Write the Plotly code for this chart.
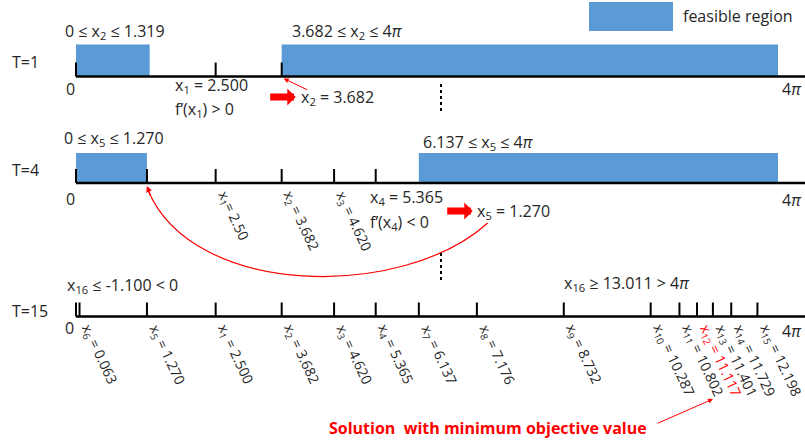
import math
import plotly.graph_objects as go

FOUR_PI = 4 * math.pi

# ---------------- data ----------------
row_names = ["T=1", "T=4", "T=15"]

# T=1
t1_region_lo = [0.0, 3.682]
t1_region_hi = [1.319, FOUR_PI]
t1_region_text = ["0 ≤ x<sub>2</sub> ≤ 1.319", "3.682 ≤ x<sub>2</sub> ≤ 4<i>π</i>"]
t1_x1 = 2.500
t1_x2 = 3.682

# T=4
t4_region_lo = [0.0, 6.137]
t4_region_hi = [1.270, FOUR_PI]
t4_region_text = ["0 ≤ x<sub>5</sub> ≤ 1.270", "6.137 ≤ x<sub>5</sub> ≤ 4<i>π</i>"]
t4_names = ["x<sub>1</sub>= ", "x<sub>2</sub> = ", "x<sub>3</sub> = "]
t4_values = [2.50, 3.682, 4.620]
t4_text = ["2.50", "3.682", "4.620"]
t4_x4 = 5.365
t4_x5 = 1.270

# T=15
t15_index = list(range(1, 16))
t15_values = [2.500, 3.682, 4.620, 5.365, 1.270, 0.063, 6.137, 7.176,
              8.732, 10.287, 10.802, 11.117, 11.401, 11.729, 12.198]
t15_text = ["2.500", "3.682", "4.620", "5.365", "1.270", "0.063", "6.137", "7.176",
            "8.732", "10.287", "10.802", "11.117", "11.401", "11.729", "12.198"]
best_index = 12
x16_text = ["x<sub>16</sub> ≤ -1.100 < 0", "x<sub>16</sub> ≥ 13.011 > 4<i>π</i>"]

# ---------------- layout constants ----------------
W, H = 805, 445
ZERO_PX, END_PX = 76, 778
PXU = (END_PX - ZERO_PX) / FOUR_PI
R0 = -ZERO_PX / PXU
R1 = R0 + W / PXU

LINE_Y = [76.5, 183, 316.5]
BAR_H = [32, 30]
TICK_H = 14
BLUE = "#5B9BD5"
TXT = "#262626"
RED = "#FF0000"
FONT = "'Open Sans', 'Noto Sans', sans-serif"
FS = 16
FS_ROT = 14
ANG = 65

fig = go.Figure()
annotations = []
shapes = []


def text(x, y, s, xanchor="left", xshift=0, color=TXT, size=FS, xref="x", **kw):
    annotations.append(dict(x=x, y=y, xref=xref, yref="y", text=s, showarrow=False,
                            xanchor=xanchor, yanchor="middle", xshift=xshift,
                            font=dict(family=FONT, size=size, color=color), **kw))


def axis_line(y):
    fig.add_trace(go.Scatter(x=[0, R1], y=[y, y], mode="lines",
                             line=dict(color="black", width=2.5), hoverinfo="skip"))


def ticks(values, y, width=2):
    xs, ys = [], []
    for v in values:
        xs += [v, v, None]
        ys += [y, y - TICK_H, None]
    fig.add_trace(go.Scatter(x=xs, y=ys, mode="lines",
                             line=dict(color="black", width=width), hoverinfo="skip"))


def bars(lo, hi, y, h):
    fig.add_trace(go.Bar(orientation="h", base=lo, x=[b - a for a, b in zip(lo, hi)],
                         y=[y - h / 2] * len(lo), width=h,
                         marker=dict(color=BLUE, line=dict(width=0)), hoverinfo="skip"))


def rotated(v, y, s, color=TXT):
    annotations.append(dict(x=v, y=y, xref="x", yref="y", text=s, showarrow=False,
                            textangle=ANG, xanchor="left", yanchor="top",
                            xshift=-6, yshift=-2,
                            font=dict(family=FONT, size=FS_ROT, color=color)))


def block_arrow(v, y, x_from, x_to):
    annotations.append(dict(x=v, y=y, xref="x", yref="y", text="", showarrow=True,
                            xshift=x_to, ax=x_from - x_to, ay=0, arrowhead=1, arrowsize=0.4,
                            arrowwidth=7, arrowcolor=RED))


def pi_label(y):
    text(1.0, y, "4<i>π</i>", xref="paper", xanchor="right", xshift=-1)


def row_label(y, s):
    text(0, y, s, xref="paper", xshift=10)


# ---------------- T=1 ----------------
y = LINE_Y[0]
bars(t1_region_lo, t1_region_hi, y, BAR_H[0])
axis_line(y)
ticks([0, t1_x1, t1_x2], y)
row_label(62, row_names[0])
text((t1_region_lo[0] + t1_region_hi[0]) / 2, 31, t1_region_text[0], xanchor="center", xshift=2)
text(t1_region_lo[1], 31, t1_region_text[1], xshift=8)
text(0, 89, "0", xanchor="center", xshift=-6)
pi_label(89)
text(t1_x1, 85, f"x<sub>1</sub> = {t1_x1:.3f}", xshift=-43)
text(t1_x1, 109, "f’(x<sub>1</sub>) > 0", xshift=-43)
block_arrow(t1_x2, 97, -13, 14)
text(t1_x2, 97, f"x<sub>2</sub> = {t1_x2:.3f}", xshift=17)
annotations.append(dict(x=t1_x2, y=78.5, xref="x", yref="y", text="", showarrow=True,
                        xshift=2, ax=25, ay=12, arrowhead=2, arrowsize=1, arrowwidth=1,
                        arrowcolor=RED))

# ---------------- T=4 ----------------
y = LINE_Y[1]
bars(t4_region_lo, t4_region_hi, y, BAR_H[1])
axis_line(y)
ticks([0, t4_x5] + t4_values + [t4_x4], y)
row_label(170, row_names[1])
text(0, 138, t4_region_text[0], xshift=-14)
text(t4_region_lo[1], 142, t4_region_text[1], xshift=2)
text(0, 199, "0", xanchor="center", xshift=-6)
pi_label(200)
for n, v, s in zip(t4_names, t4_values, t4_text):
    rotated(v, y, n + s)
text(t4_x4, 197, f"x<sub>4</sub> = {t4_x4:.3f}", xshift=-8)
text(t4_x4, 222, "f’(x<sub>4</sub>) < 0", xshift=-8)
block_arrow(t4_x4, 211, 70, 97)
text(t4_x4, 211, f"x<sub>5</sub> = {t4_x5:.3f}", xshift=99)

# curved red connector from the x5 label back to x5 on the line
sx, sy = t4_x4 + 112 / PXU, 223
ex, ey = t4_x5 + 1 / PXU, 190
c1x, c1y = sx - 85 / PXU, 300
c2x, c2y = ex + 45 / PXU, 298
shapes.append(dict(type="path", xref="x", yref="y",
                   path=f"M {sx},{sy} C {c1x},{c1y} {c2x},{c2y} {ex},{ey}",
                   line=dict(color=RED, width=1.2)))
annotations.append(dict(x=t4_x5, y=186, xref="x", yref="y", text="", showarrow=True,
                        xshift=0, ax=4, ay=11, arrowhead=2, arrowsize=1, arrowwidth=1.2,
                        arrowcolor=RED))

# ---------------- T=15 ----------------
y = LINE_Y[2]
axis_line(y)
ticks([0] + t15_values, y)
row_label(311, row_names[2])
text(0, 285, x16_text[0], xshift=-11)
text(562 / W, 283, x16_text[1], xref="paper")
text(0, 328, "0", xanchor="center", xshift=-7)
pi_label(331)
for i, v, s in zip(t15_index, t15_values, t15_text):
    rotated(v, y, f"x<sub>{i}</sub> = {s}", color=RED if i == best_index else TXT)

best_v = t15_values[best_index - 1]
text(best_v, 428, "<b>Solution  with minimum objective value</b>", xanchor="right",
     xshift=-48, color=RED, size=16)
annotations.append(dict(x=best_v, y=399, xref="x", yref="y", text="", showarrow=True,
                        xshift=16, ax=-57, ay=25, arrowhead=2, arrowsize=1, arrowwidth=1,
                        arrowcolor=RED))

# ---------------- decorations ----------------
for y0, y1 in [(84, 113), (253, 281)]:
    shapes.append(dict(type="line", xref="paper", yref="y", x0=441 / W, x1=441 / W,
                       y0=y0, y1=y1, line=dict(color="black", width=2, dash="dot")))

# legend
shapes.append(dict(type="rect", xref="paper", yref="y", x0=589 / W, x1=673 / W, y0=2, y1=31,
                   fillcolor=BLUE, line=dict(width=0)))
text(681 / W, 16, "feasible region", xref="paper")

fig.update_layout(
    width=W, height=H,
    margin=dict(l=0, r=0, t=0, b=0),
    paper_bgcolor="white", plot_bgcolor="white",
    showlegend=False, barmode="overlay",
    xaxis=dict(range=[R0, R1], visible=False, fixedrange=True),
    yaxis=dict(range=[H, 0], visible=False, fixedrange=True),
    annotations=annotations, shapes=shapes,
)

fig.write_html("out.html")
